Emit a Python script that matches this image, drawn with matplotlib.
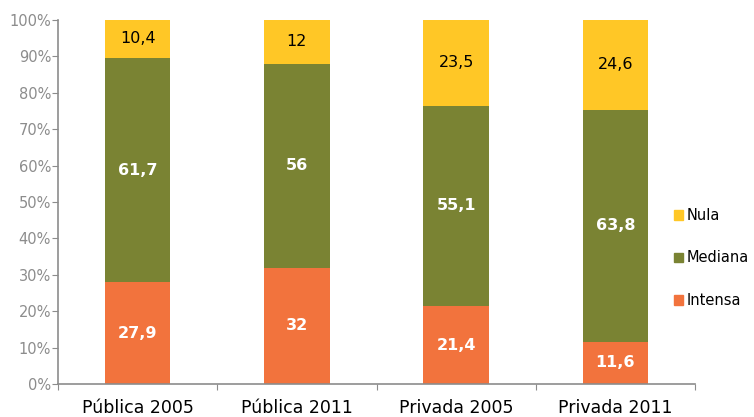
import numpy as np
import matplotlib.pyplot as plt
from matplotlib.patches import Patch

categories = ['Pública 2005', 'Pública 2011', 'Privada 2005', 'Privada 2011']
intensa = [27.9, 32, 21.4, 11.6]
mediana = [61.7, 56, 55.1, 63.8]
nula = [10.4, 12, 23.5, 24.6]

colors = {'Intensa': '#F2733D', 'Mediana': '#7A8333', 'Nula': '#FFC726'}
grey = '#8C8C8C'

def fmt(v):
    s = ('%g' % v).replace('.', ',')
    return s

fig = plt.figure(figsize=(7.54, 4.17), dpi=100)
ax = fig.add_axes([58 / 754, 33 / 417, 637 / 754, 364 / 417])

x = np.arange(len(categories))
w = 0.41
bottom = np.zeros(len(categories))
series = [('Intensa', intensa, 'white', 'bold'),
          ('Mediana', mediana, 'white', 'bold'),
          ('Nula', nula, 'black', 'normal')]
for name, vals, tc, tw in series:
    vals = np.array(vals)
    ax.bar(x, vals, w, bottom=bottom, color=colors[name], linewidth=0)
    for xi, b, v in zip(x, bottom, vals):
        ax.text(xi, b + v / 2, fmt(v), ha='center', va='center',
                color=tc, fontweight=tw, fontsize=11.5)
    bottom += vals

ax.set_xlim(-0.5, len(categories) - 0.5)
ax.set_ylim(0, 100)
ax.set_yticks(np.arange(0, 101, 10))
ax.set_yticklabels(['%d%%' % t for t in range(0, 101, 10)], color=grey, fontsize=10.5)

# category labels sit between the boundary ticks
ax.set_xticks(np.arange(-0.5, len(categories), 1.0))
ax.set_xticklabels([])
ax.set_xticks(x, minor=True)
ax.set_xticklabels(categories, minor=True, fontsize=12.5)
ax.tick_params(axis='x', which='minor', length=0, pad=11)
ax.tick_params(axis='x', which='major', length=4, color=grey)
ax.tick_params(axis='y', length=4, color=grey, pad=1)

for s in ['top', 'right']:
    ax.spines[s].set_visible(False)
for s in ['left', 'bottom']:
    ax.spines[s].set_color(grey)
    ax.spines[s].set_linewidth(1.2)

handles = [Patch(color=colors[n]) for n in ['Nula', 'Mediana', 'Intensa']]
fig.legend(handles, ['Nula', 'Mediana', 'Intensa'], loc='center left',
           bbox_to_anchor=(674 / 754, 1 - 258 / 417), frameon=False,
           fontsize=10.5, handlelength=0.65, handleheight=0.65,
           handletextpad=0.25, labelspacing=1.9, borderaxespad=0,
           borderpad=0)

fig.savefig('out.png', dpi=100)
